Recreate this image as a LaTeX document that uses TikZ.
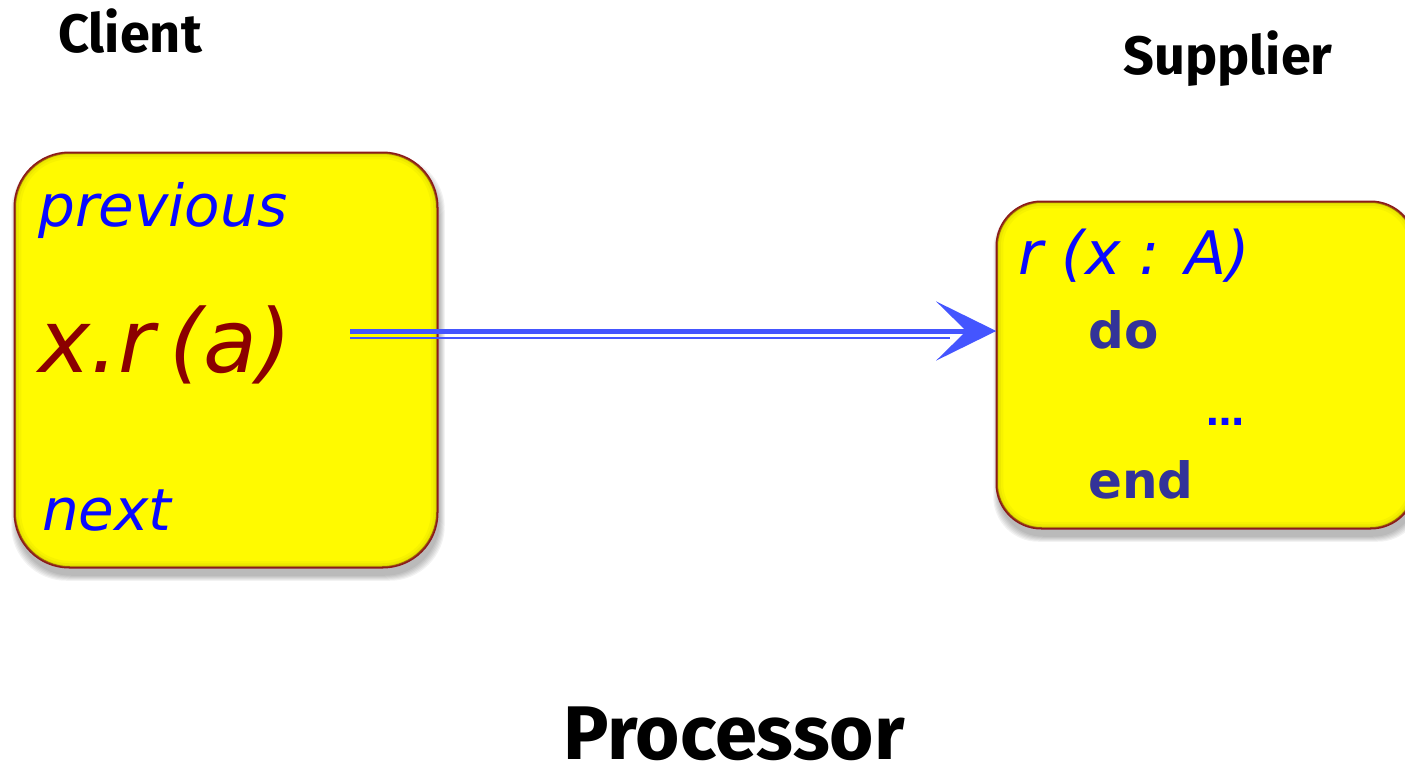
\documentclass[tikz,border=0pt]{standalone}
\usepackage{fontspec}
\setmainfont{Fira Sans}
\newfontfamily\dejavu{DejaVu Sans}
\usetikzlibrary{arrows.meta,backgrounds,calc}
\definecolor{boxyellow}{HTML}{FFFA00}
\definecolor{boxedge}{HTML}{8B1A1A}
\definecolor{boxinner}{HTML}{B8B000}
\definecolor{txtblue}{HTML}{0A0AFF}
\definecolor{txtred}{HTML}{8B0000}
\definecolor{kwblue}{HTML}{333399}
\definecolor{arrowblue}{HTML}{4455FF}
\tikzset{
  box/.style={rectangle, rounded corners=#1, fill=boxyellow, draw=boxedge, line width=1.5pt, inner sep=0pt},
  title/.style={anchor=base, inner sep=0pt, font=\fontsize{54}{54}\selectfont\bfseries, text=black},
  blueit/.style={anchor=base west, inner sep=0pt, text=txtblue, font=\dejavu\fontsize{58}{58}\selectfont\itshape},
  kw/.style={anchor=base west, inner sep=0pt, text=kwblue, font=\dejavu\fontsize{50}{50}\selectfont\bfseries},
}
\begin{document}
\begin{tikzpicture}[x=1pt,y=-1pt]
\useasboundingbox (0,0) rectangle (1405,772);
\begin{scope}
\clip (0,0) rectangle (1405,772);
\node[box=55pt, minimum width=422pt, minimum height=414pt] (client) at (226,360) {};
\node[box=45pt, minimum width=418pt, minimum height=326pt] (supplier) at (1206,365) {};
% inner edge shading
\foreach \n/\r in {client/55pt, supplier/45pt}{
  \begin{scope}
    \clip[rounded corners=\r] (\n.south west) rectangle (\n.north east);
    \foreach \w/\o in {14pt/0.10, 9pt/0.15, 5pt/0.25}{
      \draw[boxinner, opacity=\o, line width=\w, rounded corners=\r] (\n.south west) rectangle (\n.north east);
    }
  \end{scope}
  \draw[boxedge, line width=1.5pt, rounded corners=\r] (\n.south west) rectangle (\n.north east);
}
\begin{scope}[on background layer]
\foreach \n/\r in {client/55pt, supplier/45pt}{
  \foreach \g in {0,2,4,6,8,10}{
    \fill[black, opacity=0.05, rounded corners=\r]
      ($(\n.south west)+(2-\g/2,8+\g/2)$) rectangle ($(\n.north east)+(2+\g/2,8-\g/2)$);
  }
}
\end{scope}
\end{scope}
\node[title] (clientlbl) at (130,52) {Client};
\node[title] (supplbl) at (1228,74) {Supplier};
\node[title, font=\fontsize{76}{76}\selectfont\bfseries] (proc) at (734,759) {Processor};
\node[blueit] (prev) at (38,226) {previous};
\node[blueit] (next) at (42,530) {next};
\node[anchor=base west, inner sep=0pt, text=txtred, font=\dejavu\fontsize{88}{88}\selectfont\itshape] (call) at (38,372) {x.r\,(a)};
\node[blueit, font=\dejavu\fontsize{60}{60}\selectfont\itshape] (sig) at (1018,274) {r (x : A)};
\node[kw] (do) at (1088,348) {do};
\node[anchor=base west, inner sep=0pt, text=txtblue, font=\dejavu\fontsize{38}{38}\selectfont\bfseries] (dots) at (1206,425) {…};
\node[kw] (end) at (1088,498) {end};
\coordinate (s) at (350,331);
\coordinate (s2) at (350,338);
\coordinate (e2) at (950,338);
\draw[arrowblue, line width=2pt] (s2) -- (e2);
\draw[arrowblue, line width=5pt, -{Stealth[length=60pt, width=59pt, inset=30pt]}] (s) -- (supplier.west |- s);
\end{tikzpicture}
\end{document}
